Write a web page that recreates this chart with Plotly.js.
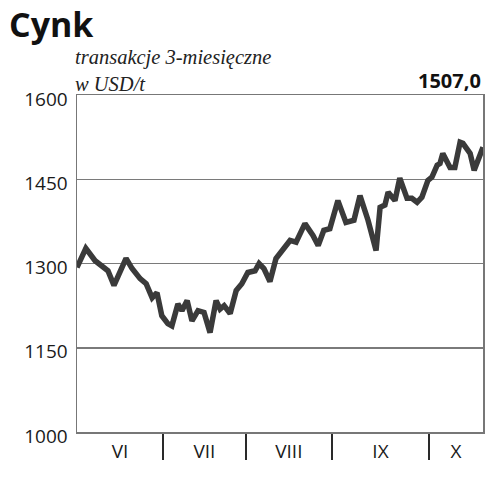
<!DOCTYPE html>
<html>
<head>
<meta charset="utf-8">
<script src="https://cdn.plot.ly/plotly-3.0.1.min.js"></script>
<style>html,body{margin:0;padding:0;background:#fff;}#chart{width:485px;height:480px;}</style>
</head>
<body>
<div id="chart"></div>
<script>
// trading-day index (from 1 June) and 3-month zinc price, USD/t
const days = [0, 2.2, 4.5, 6.5, 7.7, 9.2, 12.2, 13.7, 15.7, 17.2, 18.7, 19.9,
  21.1, 22.6, 23.6, 25.1, 26.1, 27.4, 28.6, 30.1, 31.6, 33.1, 34.6, 35.6,
  36.6, 38.1, 39.6, 41.0, 42.5, 44.3, 45.3, 46.5, 48.0, 49.5, 51.0, 53.0,
  54.5, 56.7, 58.7, 60.0, 61.4, 62.9, 64.9, 66.9, 68.9, 70.4, 72.4, 74.4,
  75.4, 76.6, 77.4, 79.1, 80.3, 82.1, 83.3, 84.6, 85.8, 87.3, 88.3, 89.6,
  90.3, 91.0, 92.8, 94.0, 95.3, 96.0, 97.8, 98.8, 101];
const prices = [1293, 1327, 1305, 1293, 1287, 1261, 1309, 1291, 1273, 1264, 1239, 1248,
  1207, 1193, 1189, 1228, 1216, 1234, 1198, 1216, 1213, 1177, 1234, 1219,
  1225, 1211, 1252, 1264, 1284, 1287, 1300, 1291, 1268, 1309, 1323, 1341,
  1338, 1371, 1350, 1332, 1359, 1362, 1412, 1373, 1377, 1421, 1377, 1323,
  1400, 1404, 1427, 1412, 1452, 1416, 1416, 1409, 1418, 1448, 1454, 1475,
  1478, 1496, 1471, 1471, 1516, 1514, 1496, 1466, 1507];
const monthEdges = [0, 21.4, 42.0, 63.4, 87.6, 101];
const monthLabels = ['VI', 'VII', 'VIII', 'IX', 'X'];
const yTicks = [1000, 1150, 1300, 1450, 1600];
const lastValue = '1507,0';

const mids = monthLabels.map((m, i) => (monthEdges[i] + monthEdges[i + 1]) / 2);
const inner = monthEdges.slice(1, -1);

const trace = {
  x: days, y: prices, type: 'scatter', mode: 'lines',
  line: {color: '#3a3a3a', width: 5.5},
  hoverinfo: 'skip'
};

const layout = {
  width: 485, height: 480,
  margin: {l: 77, r: 2, t: 95, b: 48},
  paper_bgcolor: '#fff', plot_bgcolor: '#fff',
  showlegend: false,
  font: {family: 'Open Sans, sans-serif', color: '#1a1a1a'},
  title: {
    text: '<b>Cynk</b>', x: 9 / 485, xanchor: 'left', xref: 'container',
    y: 1 - 13 / 480, yanchor: 'top', yref: 'container',
    font: {family: 'Open Sans, sans-serif', size: 34, color: '#111'}
  },
  xaxis: {
    range: [monthEdges[0], monthEdges[monthEdges.length - 1]],
    tickmode: 'array', tickvals: mids, ticktext: monthLabels,
    ticks: 'outside', ticklen: 0, tickcolor: 'rgba(0,0,0,0)',
    ticklabelstandoff: 2,
    tickfont: {family: 'Open Sans, sans-serif', size: 19, color: '#1a1a1a'},
    showgrid: false, zeroline: false,
    showline: true, mirror: true, linecolor: '#777', linewidth: 1.5,
    minor: {tickmode: 'array', tickvals: inner, ticks: 'outside', ticklen: 26,
            tickwidth: 2, tickcolor: '#2a2a2a', showgrid: false}
  },
  yaxis: {
    range: [yTicks[0], yTicks[yTicks.length - 1]],
    tickmode: 'array', tickvals: yTicks,
    ticks: '', ticklabelstandoff: 4, ticklabelshift: 4,
    tickfont: {family: 'Open Sans, sans-serif', size: 19, color: '#1a1a1a'},
    showgrid: true, gridcolor: '#7a7a7a', gridwidth: 1.5,
    zeroline: false,
    showline: true, mirror: true, linecolor: '#777', linewidth: 1.5
  },
  annotations: [
    {
      text: '<i>transakcje 3-miesięczne<br>w USD/t</i>',
      xref: 'paper', yref: 'paper', x: -4 / 406, y: 1 + 51 / 337,
      xanchor: 'left', yanchor: 'top', align: 'left', showarrow: false,
      font: {family: 'Liberation Serif, serif', size: 20.5, color: '#222'}
    },
    {
      text: '<b>' + lastValue + '</b>',
      xref: 'paper', yref: 'paper', x: 1, y: 1 - 1 / 337,
      xanchor: 'right', yanchor: 'bottom', showarrow: false,
      font: {family: 'Open Sans, sans-serif', size: 20, color: '#111'}
    }
  ]
};

Plotly.newPlot('chart', [trace], layout, {displayModeBar: false, staticPlot: true});
</script>
</body>
</html>
